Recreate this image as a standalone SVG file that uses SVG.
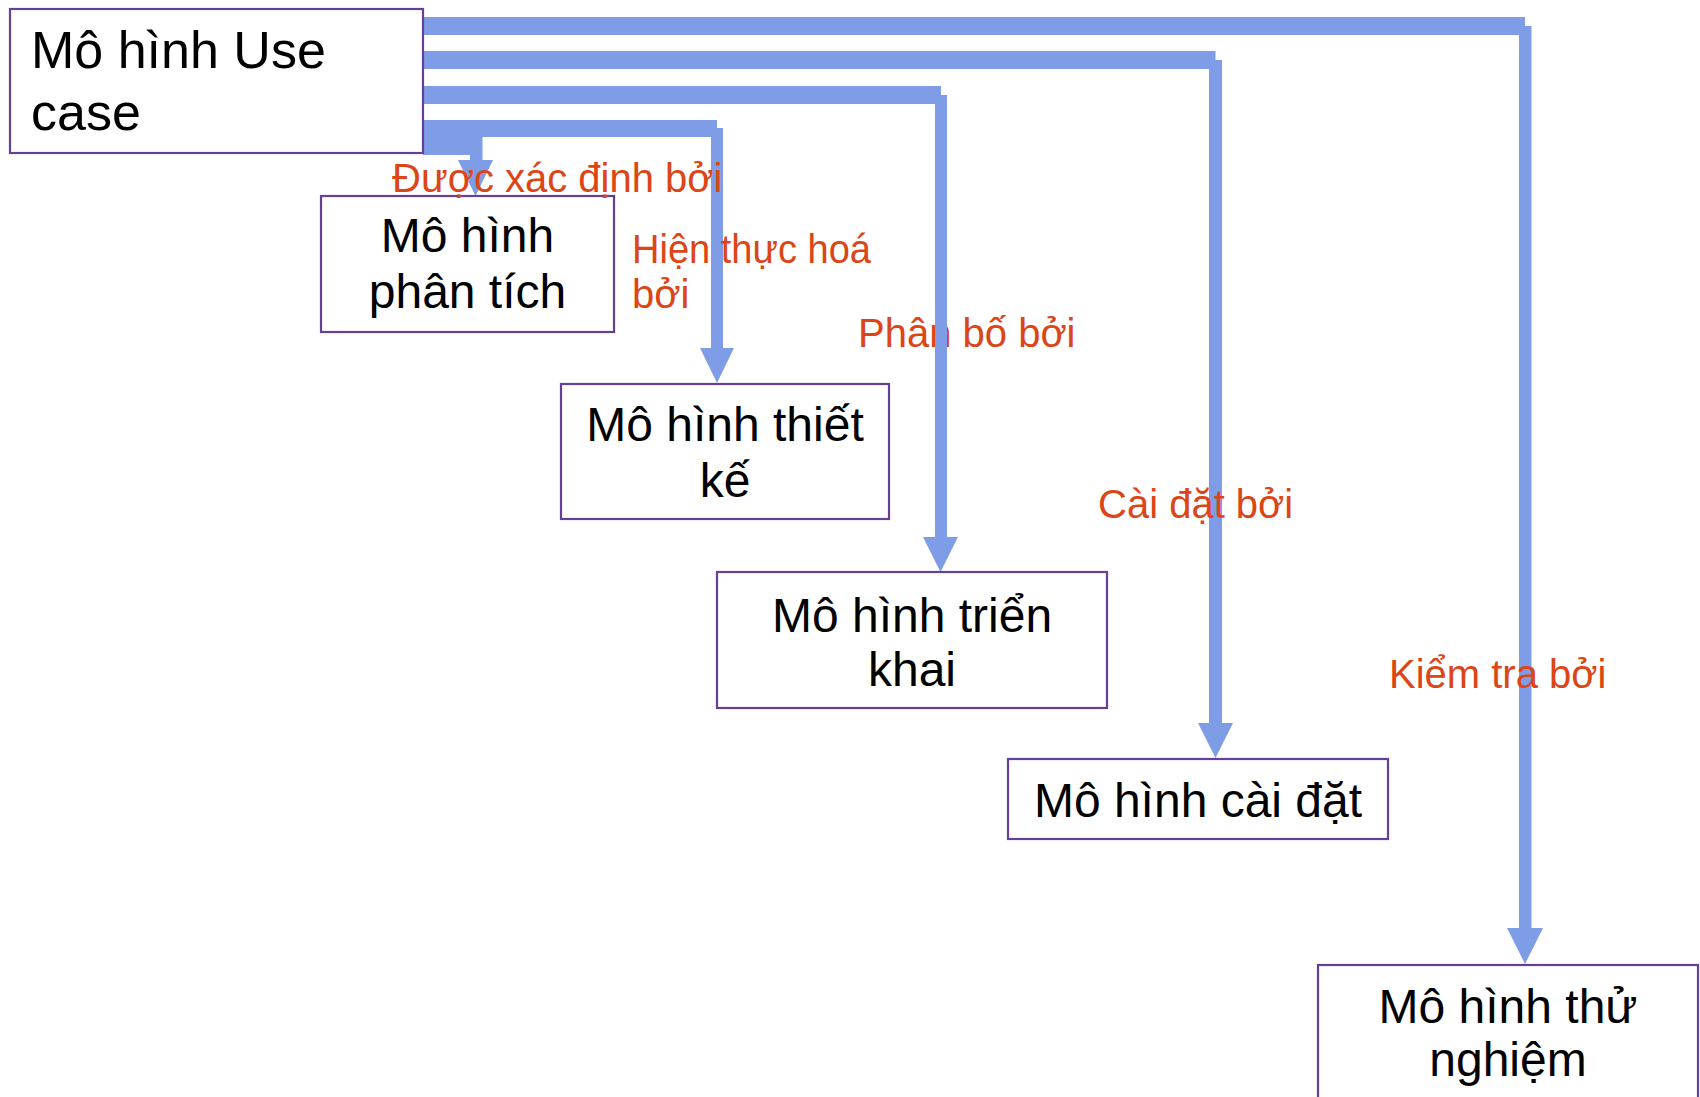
<svg xmlns="http://www.w3.org/2000/svg" width="1700" height="1097" viewBox="0 0 1700 1097">
  <style>
    .box { fill: #ffffff; stroke: #64409a; stroke-width: 2.2; }
    .txt { font-family: "Liberation Sans", Arial, sans-serif; font-size: 48px; fill: #000000; text-anchor: middle; }
    .big { font-size: 52px; text-anchor: start; }
    .lbl { font-family: "Liberation Sans", Arial, sans-serif; font-size: 40px; fill: #dc4516; }
    .conn { fill: #7f9de6; stroke: none; }
  </style>
  <rect width="1700" height="1097" fill="#ffffff"/>

  <!-- label drawn beneath the connectors -->
  <g id="label-phan-bo">
    <text class="lbl" x="858" y="347">Phân bố bởi</text>
  </g>

  <!-- connectors: horizontal bus from the Use case box, vertical drop, arrowhead -->
  <g id="connectors">
    <!-- to Mô hình thử nghiệm -->
    <path class="conn" d="M423 17 H1525 V35 H423 Z"/>
    <rect class="conn" x="1519" y="26" width="12.5" height="903"/>
    <polygon class="conn" points="1507,928 1543,928 1525,964"/>
    <!-- to Mô hình cài đặt -->
    <path class="conn" d="M423 51 H1215.5 V69 H423 Z"/>
    <rect class="conn" x="1209" y="60" width="13" height="664"/>
    <polygon class="conn" points="1198,723 1233,723 1215.5,758"/>
    <!-- to Mô hình triển khai -->
    <path class="conn" d="M423 86 H941 V104 H423 Z"/>
    <rect class="conn" x="935" y="95" width="12" height="443"/>
    <polygon class="conn" points="923,537 958,537 940.5,572"/>
    <!-- to Mô hình thiết kế -->
    <path class="conn" d="M423 120 H717 V137 H423 Z"/>
    <rect class="conn" x="711" y="128" width="12" height="221"/>
    <polygon class="conn" points="700,348 734,348 717,383"/>
    <!-- to Mô hình phân tích -->
    <path class="conn" d="M423 137 H482 V155 H423 Z"/>
    <rect class="conn" x="470" y="137" width="12.5" height="24"/>
    <polygon class="conn" points="458,160 493,160 475.5,196"/>
  </g>

  <!-- nodes -->
  <g id="node-usecase">
    <rect class="box" x="10" y="9" width="413" height="144"/>
    <text class="txt big" x="31" y="68">Mô hình Use</text>
    <text class="txt big" x="31" y="130">case</text>
  </g>
  <g id="node-phantich">
    <rect class="box" x="321" y="196" width="293" height="136"/>
    <text class="txt" x="467.5" y="252">Mô hình</text>
    <text class="txt" x="467.5" y="308">phân tích</text>
  </g>
  <g id="node-thietke">
    <rect class="box" x="561" y="384" width="328" height="135"/>
    <text class="txt" x="725" y="441">Mô hình thiết</text>
    <text class="txt" x="725" y="497">kế</text>
  </g>
  <g id="node-trienkhai">
    <rect class="box" x="717" y="572" width="390" height="136"/>
    <text class="txt" x="912" y="632">Mô hình triển</text>
    <text class="txt" x="912" y="686">khai</text>
  </g>
  <g id="node-caidat">
    <rect class="box" x="1008" y="759" width="380" height="80"/>
    <text class="txt" x="1198" y="817">Mô hình cài đặt</text>
  </g>
  <g id="node-thunghiem">
    <rect class="box" x="1318" y="965" width="380" height="150"/>
    <text class="txt" x="1508" y="1023">Mô hình thử</text>
    <text class="txt" x="1508" y="1076">nghiệm</text>
  </g>

  <!-- connector labels -->
  <g id="label-xac-dinh">
    <text class="lbl" x="392" y="192">Được xác định bởi</text>
  </g>
  <g id="label-hien-thuc">
    <text class="lbl" x="632" y="263" textLength="239" lengthAdjust="spacingAndGlyphs">Hiện thực hoá</text>
    <text class="lbl" x="632" y="308">bởi</text>
  </g>
  <g id="label-cai-dat">
    <text class="lbl" x="1098" y="518">Cài đặt bởi</text>
  </g>
  <g id="label-kiem-tra">
    <text class="lbl" x="1389" y="688">Kiểm tra bởi</text>
  </g>
</svg>
